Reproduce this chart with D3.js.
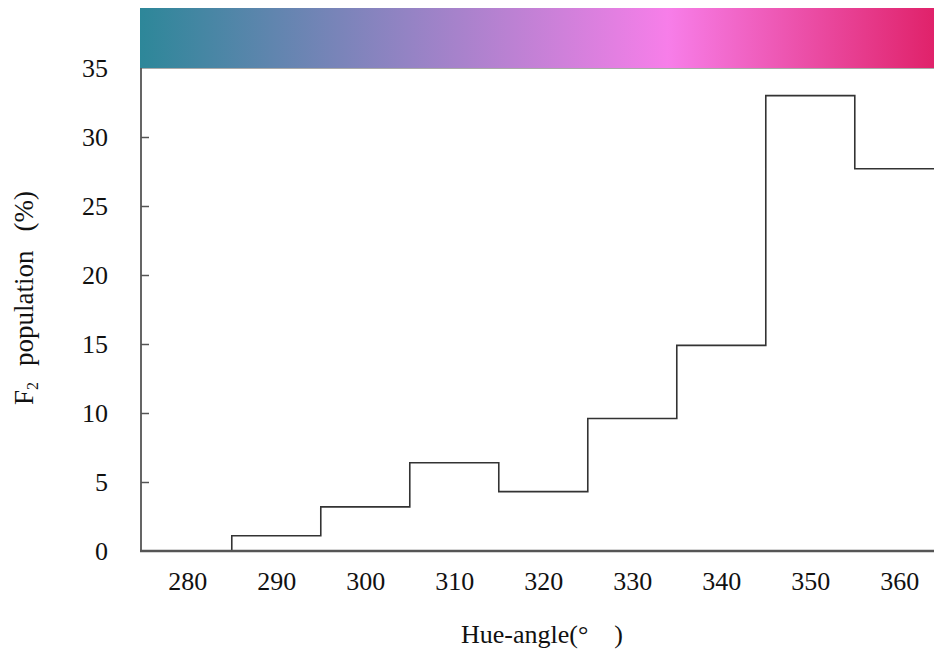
<!DOCTYPE html>
<html>
<head>
<meta charset="utf-8">
<script src="https://cdn.jsdelivr.net/npm/d3@7"></script>
<style>
  html, body { margin: 0; padding: 0; background: #fff; }
  svg { display: block; }
  text { font-family: "Liberation Serif", "Times New Roman", serif; fill: #111; }
</style>
</head>
<body>
<svg id="chart" width="934" height="657"></svg>
<script>
// Hue-angle bins (left edge of each 10° bin) and share of F2 population in each
const binStarts = [275, 285, 295, 305, 315, 325, 335, 345, 355];
const population = [0, 1.1, 3.2, 6.4, 4.3, 9.6, 14.9, 33.0, 27.7];
const xTicks = [280, 290, 300, 310, 320, 330, 340, 350, 360];
const yTicks = [0, 5, 10, 15, 20, 25, 30, 35];

// Hue colour band shown above the plot
const bandStops = [
  { offset: 0, color: "#2d8799" },
  { offset: 0.338, color: "#9483c4" },
  { offset: 0.665, color: "#f77ee9" },
  { offset: 1, color: "#e0226a" }
];

const svg = d3.select("#chart");
const plot = { left: 141, right: 934, top: 68, bottom: 551 };

const x = d3.scaleLinear().domain([274.8, 363.9]).range([plot.left, plot.right]);
const y = d3.scaleLinear().domain([0, 35]).range([plot.bottom, plot.top]);

// colour band
const defs = svg.append("defs");
const grad = defs.append("linearGradient").attr("id", "hueBand")
  .attr("x1", "0%").attr("x2", "100%").attr("y1", "0%").attr("y2", "0%");
grad.selectAll("stop").data(bandStops).join("stop")
  .attr("offset", d => d.offset).attr("stop-color", d => d.color);

svg.append("rect")
  .attr("x", plot.left - 1).attr("y", 8)
  .attr("width", plot.right - plot.left + 1).attr("height", plot.top - 8)
  .attr("fill", "url(#hueBand)");
svg.append("line")
  .attr("x1", plot.left - 1).attr("x2", plot.right).attr("y1", plot.top + 0.5).attr("y2", plot.top + 0.5)
  .attr("stroke", "#aaa").attr("stroke-width", 1);

// y axis with inward ticks
const yAxis = d3.axisRight(y).tickValues(yTicks).tickSize(8).tickFormat(d3.format("d"));
const yg = svg.append("g").attr("transform", `translate(${plot.left},0)`).call(yAxis);
yg.select(".domain").remove();
yg.selectAll(".tick line").attr("stroke", "#555").attr("stroke-width", 1.5)
  .filter(d => d === 0 || d === 35).remove();
yg.selectAll(".tick text")
  .attr("x", -33).attr("text-anchor", "end").attr("dy", "0.33em")
  .style("font-size", "26px");
svg.append("line")
  .attr("x1", plot.left).attr("x2", plot.left).attr("y1", plot.top).attr("y2", plot.bottom)
  .attr("stroke", "#555").attr("stroke-width", 1.8);

// x axis: labels only, no tick marks
const xAxis = d3.axisBottom(x).tickValues(xTicks).tickSize(0).tickFormat(d3.format("d"));
const xg = svg.append("g").attr("transform", `translate(0,${plot.bottom})`).call(xAxis);
xg.select(".domain").remove();
xg.selectAll(".tick text").attr("y", 39).attr("dy", 0).style("font-size", "26px");

// step outline of the distribution
const stepData = binStarts.map((b, i) => [b, population[i]]);
stepData.push([x.domain()[1], population[population.length - 1]]);
const line = d3.line()
  .x(d => x(d[0])).y(d => y(d[1]))
  .curve(d3.curveStepAfter);
svg.append("path")
  .datum(stepData)
  .attr("d", line)
  .attr("fill", "none")
  .attr("stroke", "#333")
  .attr("stroke-width", 1.6);

// baseline
svg.append("line")
  .attr("x1", plot.left - 1).attr("x2", plot.right).attr("y1", plot.bottom).attr("y2", plot.bottom)
  .attr("stroke", "#555").attr("stroke-width", 2.5);

// axis titles
svg.append("text")
  .attr("x", 542).attr("y", 643)
  .attr("text-anchor", "middle")
  .style("font-size", "26px")
  .text("Hue-angle(°\u2003)");

const yTitle = svg.append("text")
  .attr("transform", "translate(33,298) rotate(-90)")
  .attr("text-anchor", "middle")
  .style("font-size", "27px");
yTitle.append("tspan").text("F");
yTitle.append("tspan").attr("dy", 5).style("font-size", "16px").text("2");
yTitle.append("tspan").attr("dy", -5).attr("dx", 16).text("population");
yTitle.append("tspan").attr("dx", 19).text("(%)");
</script>
</body>
</html>
